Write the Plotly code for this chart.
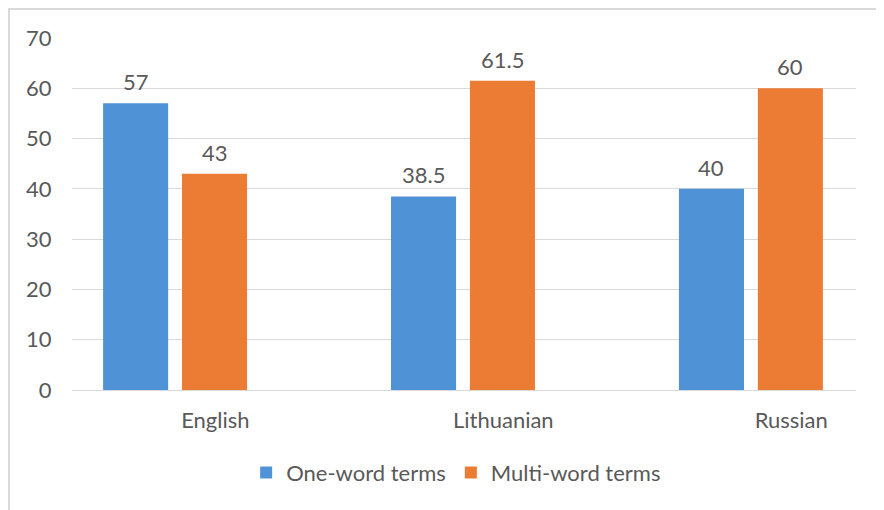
import plotly.graph_objects as go

languages = ["English", "Lithuanian", "Russian"]
one_word = [57, 38.5, 40]
multi_word = [43, 61.5, 60]
y_ticks = [0, 10, 20, 30, 40, 50, 60, 70]

pos = list(range(len(languages)))
BLUE = "#5092d6"
ORANGE = "#ec7b34"
GREY_TXT = "#595959"
FONT = "Lato"
FS = 22

fig = go.Figure()

fig.add_trace(go.Bar(
    x=pos, y=one_word, name="One-word terms",
    width=0.226, offset=-0.25,
    marker=dict(color=BLUE, line=dict(width=0)),
))
fig.add_trace(go.Bar(
    x=pos, y=multi_word, name="Multi-word terms",
    width=0.226, offset=0.024,
    marker=dict(color=ORANGE, line=dict(width=0)),
))

# value labels above bars
for i, v in enumerate(one_word):
    fig.add_annotation(x=i - 0.137, y=v, text=f"{v:g}", showarrow=False,
                       yanchor="bottom", yshift=6,
                       font=dict(family=FONT, size=FS, color=GREY_TXT))
for i, v in enumerate(multi_word):
    fig.add_annotation(x=i + 0.137, y=v, text=f"{v:g}", showarrow=False,
                       yanchor="bottom", yshift=6,
                       font=dict(family=FONT, size=FS, color=GREY_TXT))

# light frame around the chart
fig.add_shape(type="rect", xref="paper", yref="paper",
              x0=-0.0804, x1=1.0306, y0=-0.45, y1=1.0824,
              line=dict(color="#d9d9d9", width=2), fillcolor="rgba(0,0,0,0)")

# page body has an 8px margin, so the figure is sized to fit the window
fig.update_layout(
    width=876, height=502,
    barmode="overlay",
    paper_bgcolor="white",
    plot_bgcolor="white",
    font=dict(family=FONT, size=FS, color=GREY_TXT),
    margin=dict(l=64, r=28, t=30, b=120),
    showlegend=True,
    legend=dict(orientation="h", x=0.49, xanchor="center", y=-0.175, yanchor="top",
                font=dict(family=FONT, size=FS, color=GREY_TXT),
                itemwidth=30, traceorder="normal"),
    xaxis=dict(
        range=[-0.358, 2.365],
        tickvals=[p + 0.14 for p in pos], ticktext=languages,
        showgrid=False, zeroline=False, showline=False,
        ticks="outside", ticklen=11, tickcolor="rgba(0,0,0,0)",
    ),
    yaxis=dict(
        range=[0, 70], tickvals=y_ticks,
        showgrid=True, gridcolor="#d9d9d9", gridwidth=1,
        zeroline=True, zerolinecolor="#d9d9d9", zerolinewidth=1,
        showline=False,
        ticks="outside", ticklen=15, tickcolor="rgba(0,0,0,0)",
    ),
)

fig.write_html("out.html")
